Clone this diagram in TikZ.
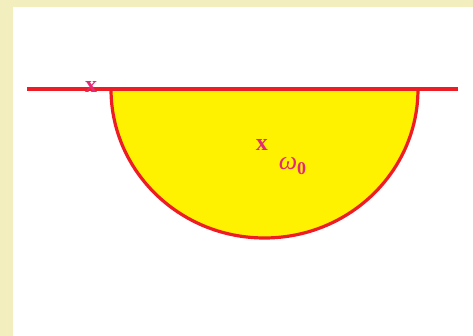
\documentclass[tikz,border=0pt]{standalone}
\usepackage{fontspec}
\setmainfont{Liberation Serif}
\usepackage{xcolor}
\usepackage{tikz}
\usetikzlibrary{positioning}
\definecolor{EdgeRed}{HTML}{EE1C25}
\definecolor{FillYellow}{HTML}{FFF200}
\definecolor{MarkPink}{HTML}{E32A77}
\definecolor{FrameCream}{HTML}{F3EEBD}

\begin{document}
\begin{tikzpicture}[
  x=0.5pt,y=0.5pt,
  edge/.style={draw=EdgeRed,line width=1.6pt},
  xlab/.style={text=MarkPink,font=\fontsize{12}{13}\selectfont\bfseries,inner sep=0pt},
  omega/.style={text=MarkPink,font=\fontsize{13}{14}\selectfont,inner sep=0pt}
]
\useasboundingbox (0,0) rectangle (473,-336);
% frame
\fill[FrameCream] (0,0) rectangle (473,-336);
\fill[white] (13,-7) rectangle (473,-336);
% surface line and half disc
\coordinate (lineL) at (27,-89);
\coordinate (lineR) at (458,-89);
\coordinate (arcL) at (111,-89);
\fill[FillYellow] (arcL) arc[start angle=180,end angle=360,x radius=153.5,y radius=149] -- cycle;
\draw[edge] (lineL) -- (lineR);
\draw[edge] (arcL) arc[start angle=180,end angle=360,x radius=153.5,y radius=149];
% labels
\node[xlab] (xs) at (91,-87) {x};
\node[xlab] (xc) at (262,-145) {x};
\node[omega,below right=3pt and 5pt of xc] (w0) {\textit{ω}\raisebox{-2.5pt}{\fontsize{9}{10}\selectfont\bfseries 0}};
\end{tikzpicture}
\end{document}
